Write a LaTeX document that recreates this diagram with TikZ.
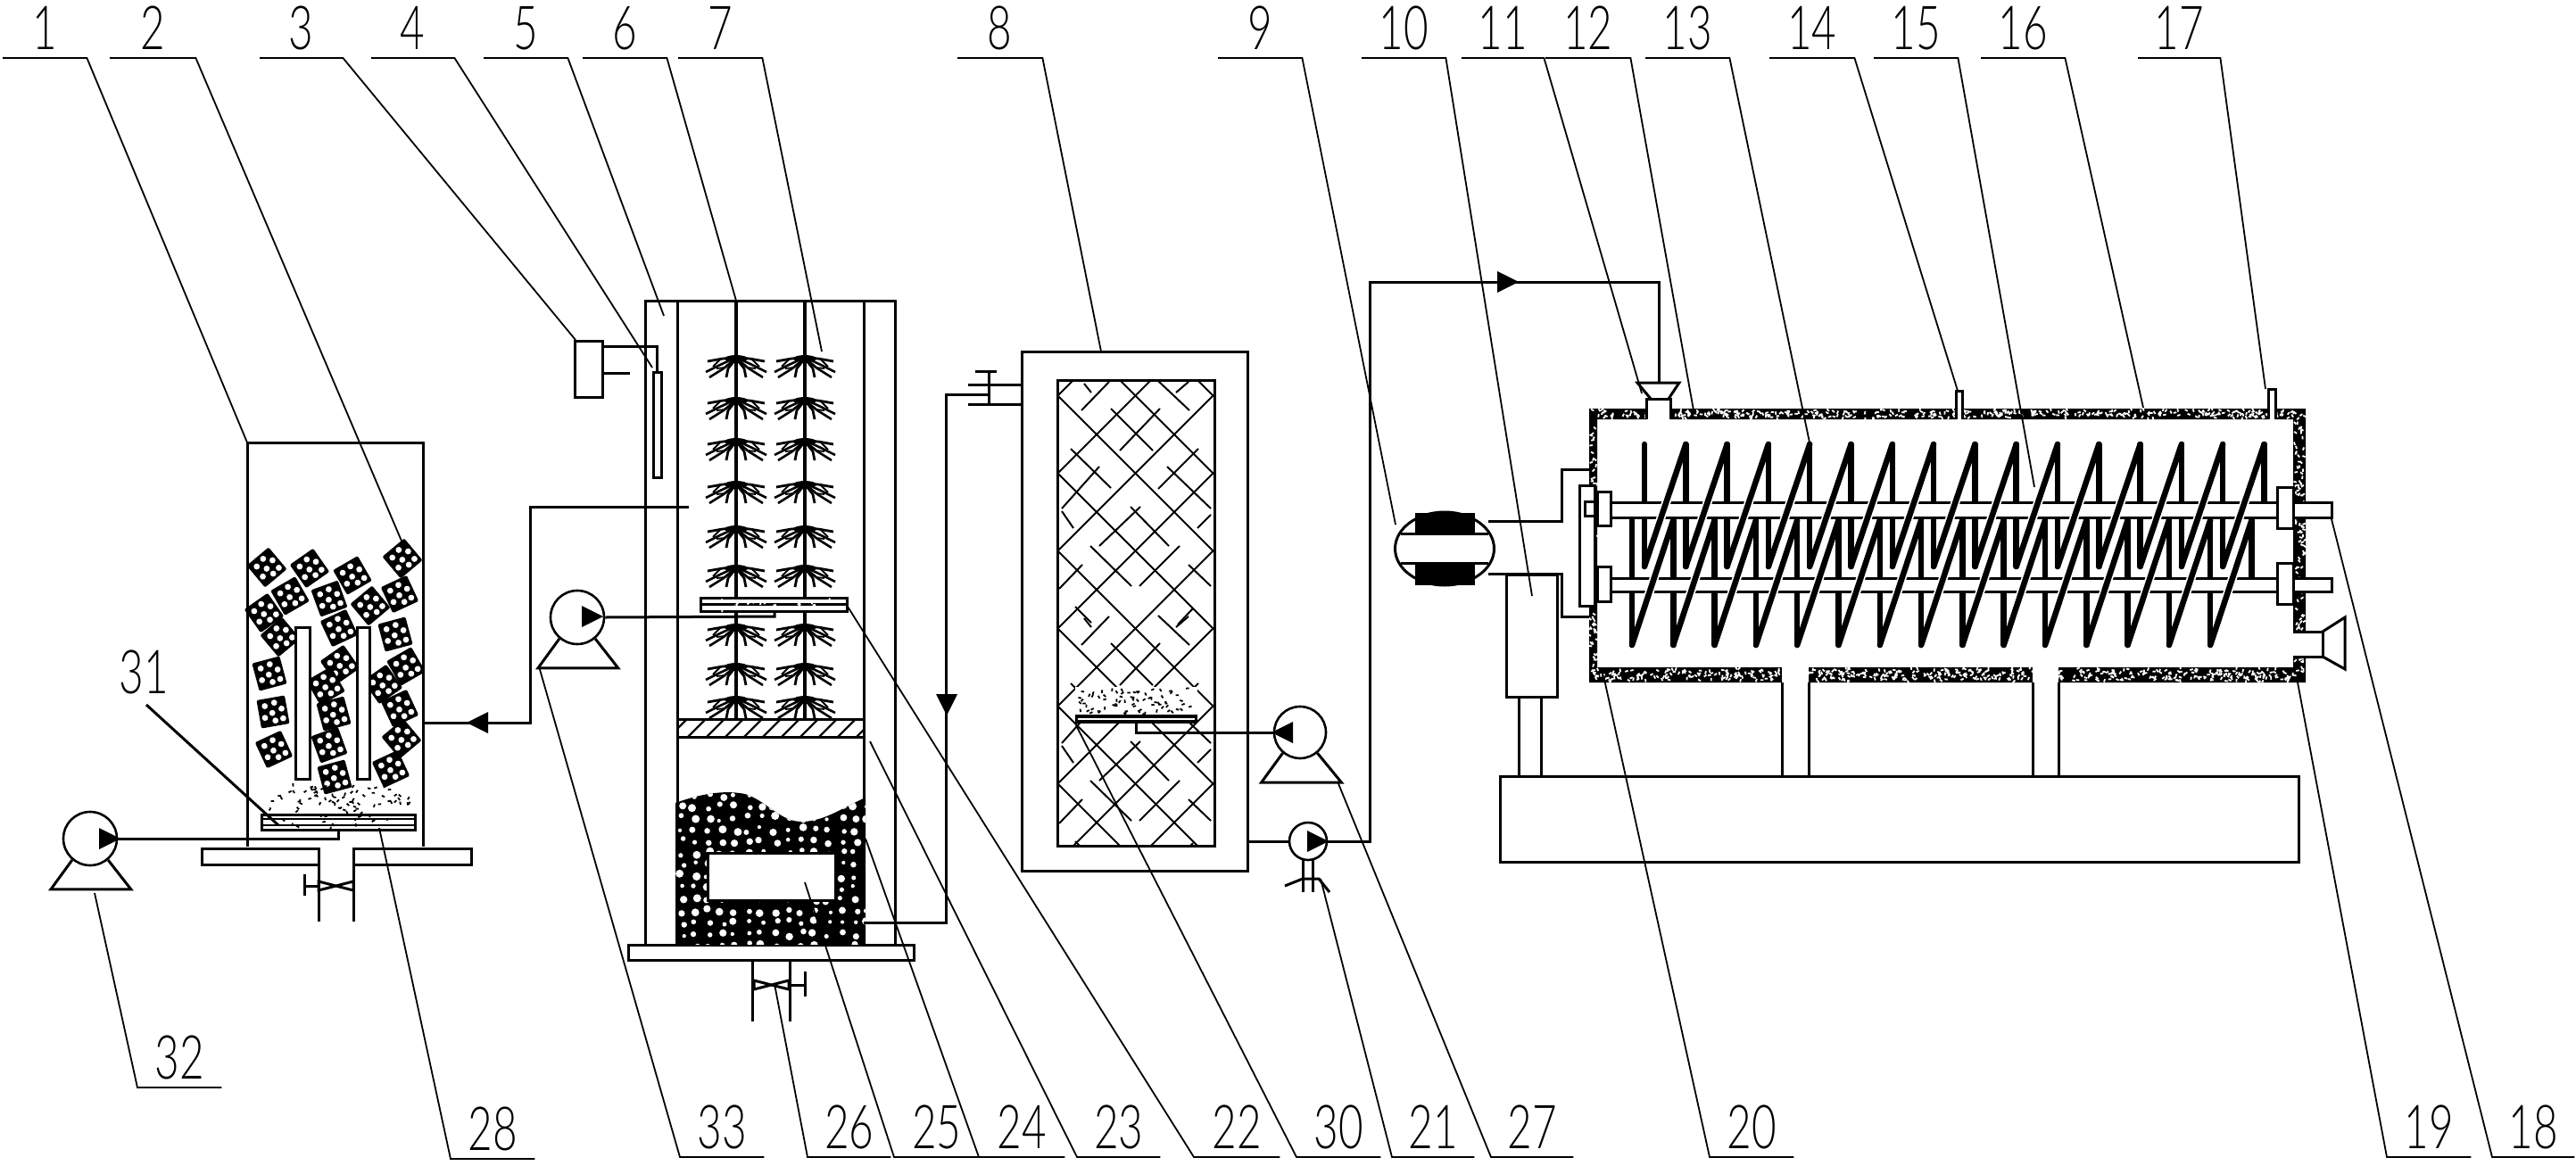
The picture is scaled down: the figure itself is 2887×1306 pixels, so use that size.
\documentclass[tikz,border=0pt]{standalone}
\usepackage{fontspec}
\newfontfamily\lblfont{Lato Light}
\usetikzlibrary{calc}

\newcommand{\speckle}[6]{%
    \foreach \i in {1,...,#6}{
        \pgfmathsetmacro{\px}{#2+rnd*(#4-#2)}
        \pgfmathsetmacro{\py}{#3+rnd*(#5-#3)}
        \pgfmathsetmacro{\pa}{rnd*360}
        \draw[#1,line width=1.8pt] (\px,\py) -- ++(\pa:3.5);
    }}
\newcommand{\flowtip}[3]{\fill[black,shift={(#1,#2)},rotate=#3] (0,0) -- (-24,12) -- (-24,-12) -- cycle;}
\newcommand{\lbl}[1]{\scalebox{.7}[1]{\lblfont\fontsize{68}{68}\selectfont #1}}
\newcommand{\bowvalve}[2]{\draw[mainline] (#1,#2-5) -- (#1+39,#2+5) -- (#1+39,#2-5) -- (#1,#2+5) -- cycle;}

\tikzset{
    mainline/.style={line width=3pt,line join=miter},
    pipe/.style={line width=3pt},
    leader/.style={line width=1.8pt},
    numlabel/.style={inner xsep=0pt,inner ysep=9pt,text depth=0pt},
    pumpbody/.style={circle,draw,fill=white,line width=2.6pt,inner sep=0pt,minimum size=#1},
    whitebox/.style={draw,fill=white,line width=3pt},
    mediacube/.pic={
        \fill[black,rounded corners=2pt] (-16,-16) rectangle (16,16);
        \foreach \a/\b in {-8/-8,3/-10,10/-2,-1/1,-10/5,1/10,10/9}{\fill[white] (\a,\b) circle (3.4pt);}
    },
    rootbunch/.pic={
        \fill[black] (0,3) ellipse (13pt and 4pt);
        \foreach \s in {1,-1}{
            \draw[line width=2.8pt,xscale=\s] (0,2) -- (15,3) -- (32,6);
            \draw[line width=2.6pt,xscale=\s] (3,3) -- (18,10) -- (34,18);
            \draw[line width=2.6pt,xscale=\s] (2,4) -- (14,14) -- (30,24);
            \draw[line width=2.8pt,xscale=\s] (1,4) -- (9,14) -- (11,24);
            \draw[line width=1.8pt,xscale=\s] (18,4) -- (26,12);
            \draw[line width=1.8pt,xscale=\s] (12,13) -- (22,14);
        }
    }
}

\begin{document}
\begin{tikzpicture}[x=1pt,y=-1pt]
    \useasboundingbox (0,0) rectangle (2887,1306);
    \pgfmathsetseed{4217}

    % tank 1
    \draw[mainline] (277,949) -- (277,496) -- (474,496) -- (474,949);
    \foreach \cx/\cy/\ang in {299/636/40,347/637/35,395/645/30,451/626/40,325/668/30,369/671/20,415/679/40,448/666/25,296/687/35,314/714/40,380/704/25,443/711/15,302/755/15,381/745/35,455/747/30,365/769/30,429/767/35,306/798/10,374/800/15,448/794/25,450/828/40,307/840/25,369/835/20,438/862/25,375/871/15}{
        \pic[rotate=\ang] at (\cx,\cy) {mediacube};
    }
    \draw[whitebox] (331,703) rectangle (347,873);
    \draw[whitebox] (400,703) rectangle (414,873);
    \speckle{black}{297}{881}{460}{913}{70}
    \draw[mainline,fill=white] (293,913) rectangle (465,930);
    \draw[line width=2pt] (293,918) -- (465,918) (293,925) -- (465,925);
    \speckle{black}{300}{912}{450}{928}{16}
    \draw[mainline] (277,951) -- (226,951) -- (226,969) -- (357,969) -- (357,951) -- (277,951);
    \draw[mainline] (474,951) -- (528,951) -- (528,969) -- (396,969) -- (396,951) -- (474,951);
    \draw[mainline] (357,969) -- (357,1033) (396,969) -- (396,1033);
    \bowvalve{357}{993}
    \draw[mainline] (341,993) -- (357,993) (341,980) -- (341,1004);

    % tank 6
    \draw[mainline] (723,1059) -- (723,337) -- (1003,337) -- (1003,1059);
    \draw[mainline] (759,1059) -- (759,337) (968,337) -- (968,1059);
    \draw[mainline,fill=white] (704,1059) rectangle (1024,1076);
    \draw[mainline] (843,1076) -- (843,1145) (885,1076) -- (885,1145);
    \bowvalve{845}{1104}
    \draw[mainline] (885,1104) -- (902,1104) (902,1089) -- (902,1117);
    \foreach \stemx in {825,902}{
        \draw[line width=3.4pt] (\stemx,337) -- (\stemx,806);
        \foreach \rooty in {399,446,492,540,590,634,700,744,781}{
            \pic at (\stemx,\rooty) {rootbunch};
        }
    }
    \draw[mainline,fill=white] (759,806) rectangle (968,826);
    \begin{scope}
        \clip (759,806) rectangle (968,826);
        \foreach \hx in {750,771,...,990}{\draw[line width=2.4pt] (\hx,826) -- (\hx+20,806);}
    \end{scope}
    \begin{scope}
        \clip (757,900) .. controls (790,888) and (815,886) .. (835,890) .. controls (860,898) and (875,922) .. (900,921) .. controls (925,920) and (945,905) .. (970,894) -- (970,1059) -- (757,1059) -- cycle;
        \fill[black] (750,880) rectangle (975,1060);
        \foreach \gx in {760,775,...,970}{
            \foreach \gy in {888,901,...,1060}{
                \pgfmathsetmacro{\ga}{\gx+rnd*7}
                \pgfmathsetmacro{\gb}{\gy+rnd*6}
                \pgfmathsetmacro{\gr}{2+rnd*2.6}
                \fill[white] (\ga,\gb) circle (\gr pt);
            }
        }
    \end{scope}
    \draw[mainline,fill=white] (793,956) rectangle (936,1009);
    \draw[mainline,fill=white] (785,670) rectangle (949,685);
    \draw[line width=3pt] (785,677.5) -- (949,677.5);
    \speckle{white}{790}{672}{945}{683}{24}

    % level gauge
    \node[draw,line width=3pt,inner sep=0pt,minimum width=31pt,minimum height=63pt] (gaugebox) at (660,413.5) {};
    \draw[mainline] (676,388) -- (736,388) -- (736,417);
    \draw[mainline] (676,418) -- (706,418);
    \draw[whitebox] (732,417) rectangle (741,535);

    % filter box 8
    \node[draw,line width=3pt,inner sep=0pt,minimum width=253pt,minimum height=582pt] (filterbox) at (1271.5,685) {};
    \draw[mainline] (1185,426) rectangle (1361,948);
    \begin{scope}
        \clip (1185,426) rectangle (1361,948);
        \foreach \c in {-2,...,8}{
            \draw[line width=2pt] (1185,{1803+87*\c-1185}) -- ++(176,-176);
            \draw[line width=2pt] (1185,{443+87*\c-174}) -- ++(176,176);
        }
        \foreach \k in {0,1}{
            \begin{scope}[shift={(1150,{380+263*\k})}]
                \foreach \ax/\ay/\bx/\by in {62/80/93/48,65/50/73/60,148/47/183/80,168/60/182/48,95/78/142/125,105/125/150/78,50/123/95/167,40/190/82/143,158/143/207/190,148/168/193/123,40/193/53/212,192/212/207/197,72/232/118/277,82/232/128/188,117/188/160/232,127/277/172/232,182/253/207/277,37/280/63/253,55/300/73/318,170/320/187/302}{
                    \draw[line width=2pt] (\ax,\ay) -- (\bx,\by);
                }
            \end{scope}
        }
    \end{scope}
    \fill[white] (1205,770) rectangle (1342,801);
    \speckle{black}{1207}{771}{1338}{800}{75}
    \fill[black] (1205,801) rectangle (1342,811);
    \draw[white,line width=1.4pt] (1208,806) -- (1339,806);
    \draw[mainline] (1085,431) -- (1145,431) (1085,453) -- (1145,453);
    \draw[mainline] (1108,416) -- (1108,453) (1093,416) -- (1117,416);

    % dryer shell
    \fill[black,even odd rule] (1781,458) rectangle (2584,765) (1790,470) rectangle (2570,748);
    \speckle{white}{1784}{460}{2582}{468}{420}
    \speckle{white}{1784}{750}{2582}{763}{560}
    \speckle{white}{1783}{470}{1789}{748}{70}
    \speckle{white}{2572}{470}{2582}{748}{110}
    \fill[white] (1845,456) rectangle (1872,472);
    \fill[white] (2192,456) rectangle (2199,472);
    \fill[white] (2542,456) rectangle (2550,472);
    \fill[white] (1997,746) rectangle (2027,767);
    \fill[white] (2278,746) rectangle (2307,767);
    \fill[white] (2568,708) rectangle (2586,736);
    \draw[mainline] (1845,470) -- (1845,447) -- (1872,447) -- (1872,470);
    \draw[mainline] (1850,447) -- (1835,429) -- (1882,429) -- (1870,447);
    \draw[mainline] (2192,470) -- (2192,438) -- (2199,438) -- (2199,470);
    \draw[mainline] (2542,470) -- (2542,436) -- (2550,436) -- (2550,470);
    \draw[mainline] (2570,708) -- (2603,708) -- (2603,736) -- (2570,736);
    \draw[mainline] (2603,708) -- (2628,692) -- (2628,750) -- (2603,736);

    % screws
    \foreach \i in {0,...,14}{
        \draw[line width=6.5pt,line cap=round] ({1843+46.3*\i},635) -- ({1843+46.3*\i},498);
        \draw[line width=6.5pt,line cap=round] ({1829+46.3*\i},723) -- ({1829+46.3*\i},583);
    }
    \draw[line width=6.5pt,line cap=round] (2537.5,570) -- (2537.5,498);
    \draw[line width=6.5pt,line cap=round] (2523.5,655) -- (2523.5,583);
    \draw[whitebox] (1800,563) rectangle (2613,580);
    \draw[whitebox] (1800,648) rectangle (2613,663);
    \foreach \i in {0,...,14}{
        \draw[white,line width=10pt,shorten >=26pt,shorten <=26pt] ({1829+46.3*\i},723) -- ({1875.3+46.3*\i},583);
        \draw[white,line width=10pt,shorten >=26pt,shorten <=26pt] ({1843+46.3*\i},635) -- ({1889.3+46.3*\i},498);
        \draw[line width=6.5pt,line cap=round] ({1829+46.3*\i},723) -- ({1875.3+46.3*\i},583);
        \draw[line width=6.5pt,line cap=round] ({1843+46.3*\i},635) -- ({1889.3+46.3*\i},498);
    }
    \draw[whitebox] (2552,546) rectangle (2570,592);
    \draw[whitebox] (2552,631) rectangle (2570,677);
    \draw[whitebox] (1790,551) rectangle (1805,589);
    \draw[whitebox] (1790,635) rectangle (1805,674);
    \draw[whitebox] (1770,544) rectangle (1787,679);
    \draw[mainline] (1776,562) rectangle (1790,578);

    % motor and supports
    \draw[mainline] (1619,615) ellipse (55.5pt and 41pt);
    \fill[black] (1586,575) rectangle (1653,598);
    \fill[black] (1586,631) rectangle (1653,656);
    \draw[mainline] (1570,598) -- (1668,598) (1570,631) -- (1668,631);
    \draw[mainline] (1668,584) -- (1750,584) -- (1750,526) -- (1781,526);
    \draw[mainline] (1668,643) -- (1750,643) -- (1750,691) -- (1781,691);
    \draw[mainline] (1688,644) rectangle (1745,781);
    \draw[mainline] (1702,781) -- (1702,870) (1727,781) -- (1727,870);
    \draw[mainline] (1997,765) -- (1997,870) (2027,765) -- (2027,870);
    \draw[mainline] (2278,765) -- (2278,870) (2307,765) -- (2307,870);
    \node[draw,line width=3pt,inner sep=0pt,minimum width=895pt,minimum height=96pt] (dryerbase) at (2129,918) {};

    % pumps
    \node[pumpbody=60pt] (pump32) at (101,940) {};
    \node[pumpbody=60pt] (pump33) at (647,692) {};
    \node[pumpbody=58pt] (pump27) at (1457,821) {};
    \node[pumpbody=42pt] (pump21) at (1466,943) {};
    \foreach \pn in {32,33,27}{
        \draw[mainline] (pump\pn.230) -- ++(-24,33) -- ++(90,0) -- (pump\pn.310);
    }
    \draw[mainline] (1460,963) -- (1460,1000) (1471,963) -- (1471,1000);
    \draw[mainline] (1440,993) -- (1460,985) -- (1478,985) -- (1490,1000);

    % pipes
    \draw[pipe] (474,810) -- (594,810) -- (594,568) -- (772,568);
    \draw[pipe] (pump32.east) -- (379,940) -- (379,930);
    \draw[pipe] (pump33.east) -- (868,691) -- (868,685);
    \draw[pipe] (pump27.west) -- (1273,821) -- (1273,811);
    \draw[pipe] (968,1034) -- (1060,1034) -- (1060,442) -- (1108,442);
    \draw[pipe] (filterbox.south east |- pump21.west) -- (pump21.west);
    \draw[pipe] (pump21.east) -- (1535,943) -- (1535,316) -- (1859,316) -- (1859,429);
    \flowtip{523}{810}{180}
    \flowtip{135}{940}{0}
    \flowtip{676}{691}{0}
    \flowtip{1425}{821}{180}
    \flowtip{1489}{943}{0}
    \flowtip{1061}{802}{-90}
    \flowtip{1702}{316}{0}

    % labels and leaders
    \foreach \num/\xa/\xb/\tx/\ty in {1/3/97/277/496,2/123/219/452/611,3/291/384/645/381,4/416/509/731/412,5/542/636/744/354,6/653/747/825/337,7/760/854/921/394,8/1073/1168/1234/394,9/1365/1459/1564/588,10/1526/1620/1717/668,11/1638/1730/1840/441,12/1732/1827/1898/460,13/1844/1938/2028/496,14/1983/2078/2194/438,15/2100/2194/2280/546,16/2220/2314/2402/457,17/2396/2488/2539/436}{
        \node[numlabel,anchor=south west,minimum width={(\xb-\xa)*1pt}] (n\num) at (\xa,65) {\lbl{\num}};
        \coordinate (t\num) at (\tx,\ty);
        \draw[leader] (n\num.south west) -- (n\num.south east) -- (t\num);
    }
    \foreach \num/\xa/\xb/\yb/\tx/\ty in {18/2793/2885/1297/2613/582,19/2675/2769/1297/2575/765,20/1916/2010/1297/1797/757,21/1560/1652/1297/1480/985,22/1338/1434/1297/950/680,23/1207/1300/1297/975/831,24/1097/1193/1297/970/940,25/1002/1097/1297/902/989,26/905/998/1297/868/1103,27/1671/1763/1297/1499/876,28/505/599/1299/425/928,30/1453/1547/1297/1206/813,32/154/248/1219/106/1001,33/762/856/1297/604/747}{
        \node[numlabel,anchor=south west,minimum width={(\xb-\xa)*1pt}] (n\num) at (\xa,\yb) {\lbl{\num}};
        \coordinate (t\num) at (\tx,\ty);
        \draw[leader] (n\num.south east) -- (n\num.south west) -- (t\num);
    }
    \node[inner sep=0pt,anchor=south] (n31) at (161,778) {\lbl{31}};
    \coordinate (t31) at (312,925);
    \draw[line width=3pt] (164,790) -- (t31);
\end{tikzpicture}
\end{document}
